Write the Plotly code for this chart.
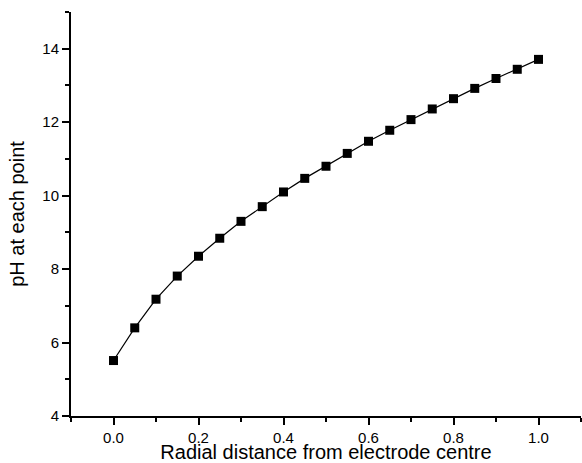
import plotly.graph_objects as go

# Radial position (fraction of electrode radius) and the pH computed there
radial_distance = [0.00, 0.05, 0.10, 0.15, 0.20, 0.25, 0.30, 0.35, 0.40, 0.45, 0.50,
                   0.55, 0.60, 0.65, 0.70, 0.75, 0.80, 0.85, 0.90, 0.95, 1.00]
ph_values = [5.51, 6.40, 7.18, 7.81, 8.35, 8.84, 9.30, 9.70, 10.10, 10.47, 10.80,
             11.15, 11.48, 11.78, 12.07, 12.36, 12.64, 12.92, 13.19, 13.44, 13.71]

x_title = "Radial distance from electrode centre"
y_title = "pH at each point"

FONT = "Liberation Sans, Arial, Helvetica, sans-serif"

fig = go.Figure(
    go.Scatter(
        x=radial_distance,
        y=ph_values,
        mode="lines+markers",
        line=dict(color="black", width=1.2),
        marker=dict(symbol="square", size=9, color="black"),
        showlegend=False,
    )
)

axis_common = dict(
    showline=True,
    linecolor="black",
    linewidth=2,
    showgrid=False,
    zeroline=False,
    ticks="outside",
    tickcolor="black",
    tickwidth=1.5,
    ticklen=7,
    tickfont=dict(family=FONT, size=15, color="black"),
    mirror=False,
)

fig.update_xaxes(
    **axis_common,
    range=[-0.1, 1.1],
    tick0=0,
    dtick=0.2,
    tickformat=".1f",
    minor=dict(dtick=0.1, tick0=0, ticks="outside", ticklen=4, tickwidth=1.5, tickcolor="black"),
    title=dict(text=x_title, font=dict(family=FONT, size=20, color="black"), standoff=5),
)
fig.update_yaxes(
    **axis_common,
    range=[4, 15],
    tick0=0,
    dtick=2,
    minor=dict(dtick=1, tick0=0, ticks="outside", ticklen=4, tickwidth=1.5, tickcolor="black"),
    title=dict(text=y_title, font=dict(family=FONT, size=20, color="black"), standoff=12),
)

fig.update_layout(
    width=582,
    height=463,
    margin=dict(l=71, r=1, t=12, b=47, autoexpand=False),
    paper_bgcolor="white",
    plot_bgcolor="white",
    font=dict(family=FONT, color="black"),
)

fig.write_html("out.html")
